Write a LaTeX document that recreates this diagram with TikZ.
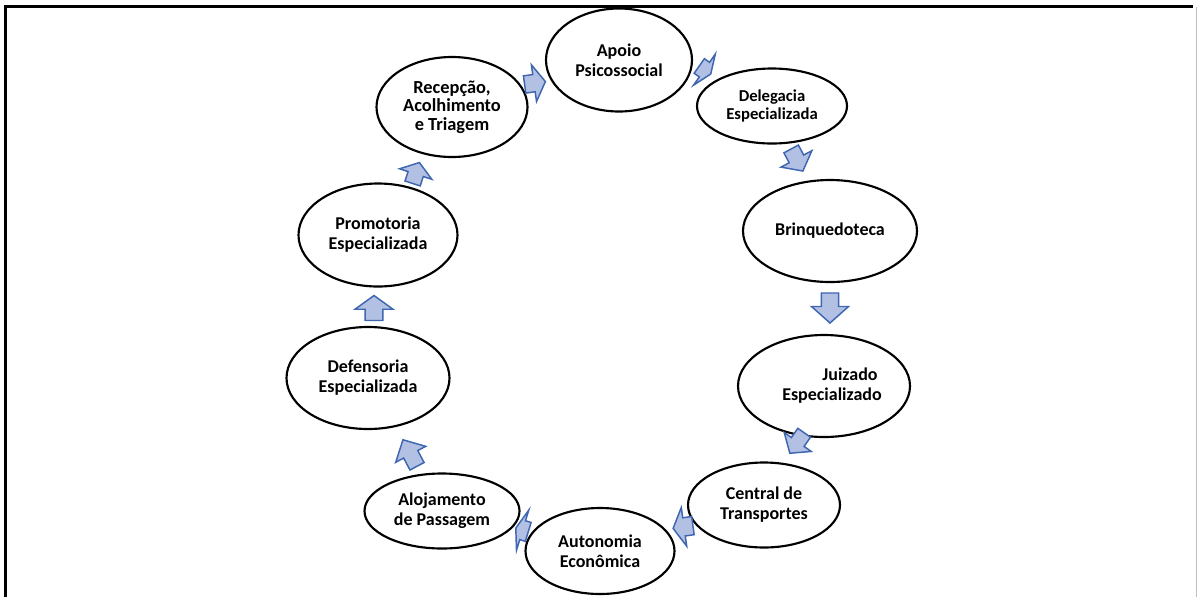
\documentclass[tikz,border=0pt]{standalone}
\usepackage{fontspec}
\setmainfont{Carlito}
\usetikzlibrary{shapes.geometric}
\definecolor{arrfill}{HTML}{B2C0E4}
\definecolor{arrline}{HTML}{3F66B0}
\definecolor{framegray}{HTML}{BFBFBF}
\tikzset{
  stage/.style 2 args={ellipse, draw=black, line width=1.6pt, fill=white,
    inner sep=0pt, align=center, minimum width=#1*0.75pt, minimum height=#2*0.75pt,
    font=\bfseries\fontsize{13.5}{15}\selectfont},
  pics/barrow/.style 2 args={code={
    \path[fill=arrfill, draw=arrline, line width=1.1pt, line join=miter]
      ({-#1/2},{-0.235*#2}) -- ({-#1/2+0.45*#1},{-0.235*#2}) -- ({-#1/2+0.45*#1},{-#2/2})
      -- ({#1/2},0) -- ({-#1/2+0.45*#1},{#2/2}) -- ({-#1/2+0.45*#1},{0.235*#2})
      -- ({-#1/2},{0.235*#2}) -- cycle;
  }}
}
\begin{document}
\begin{tikzpicture}[x=0.75pt, y=-0.75pt]
\useasboundingbox (0,0) rectangle (1198,597);
% frame
\draw[line width=1.8pt] (5.5,597) -- (5.5,6.5) -- (1193,6.5);
\draw[framegray, line width=0.9pt] (1196.5,7) -- (1196.5,597);
% stages
\node[stage={146}{103}] (apoio) at (619,60) {Apoio\\Psicossocial};
\node[stage={150}{75}, font=\bfseries\fontsize{12.5}{13.5}\selectfont] (deleg) at (772,106) {Delegacia\\Especializada};
\node[stage={174}{102}] (brinq) at (830,231) {Brinquedoteca};
\node[stage={172}{102}] (juiz) at (824,386) {\hspace*{39pt}Juizado\\\hspace*{12pt}Especializado};
\node[stage={152}{85}] (central) at (764,505) {Central de\\Transportes};
\node[stage={149}{86}] (auton) at (600,551) {Autonomia\\Econômica};
\node[stage={155}{75}] (aloj) at (442,511) {Alojamento\\de Passagem};
\node[stage={163}{102}] (defens) at (368,378) {Defensoria\\Especializada};
\node[stage={159}{103}] (promot) at (378,235) {Promotoria\\Especializada};
\node[stage={151}{100}, font=\bfseries\fontsize{13.8}{13.8}\selectfont] (recep) at (452,107) {Recepção,\\Acolhimento\\e Triagem};
% block arrows between stages
\pic[rotate=8] (a1) at (535,83) {barrow={21}{37}};
\pic[rotate=-35] (a2) at (705,70) {barrow={14}{38}};
\pic[rotate=-62] (a3) at (797,160) {barrow={25}{35}};
\pic[rotate=-90] (a4) at (830,308) {barrow={30}{37}};
\pic[rotate=-125] (a5) at (797,443) {barrow={25}{33}};
\pic[rotate=188] (a6) at (683,527) {barrow={20}{39}};
\pic[rotate=163] (a7) at (522,530) {barrow={13}{42}};
\pic[rotate=118] (a8) at (410,453) {barrow={30}{34}};
\pic[rotate=90] (a9) at (374,308) {barrow={25}{38}};
\pic[rotate=72] (a10) at (416,173) {barrow={22}{34}};
\end{tikzpicture}
\end{document}
